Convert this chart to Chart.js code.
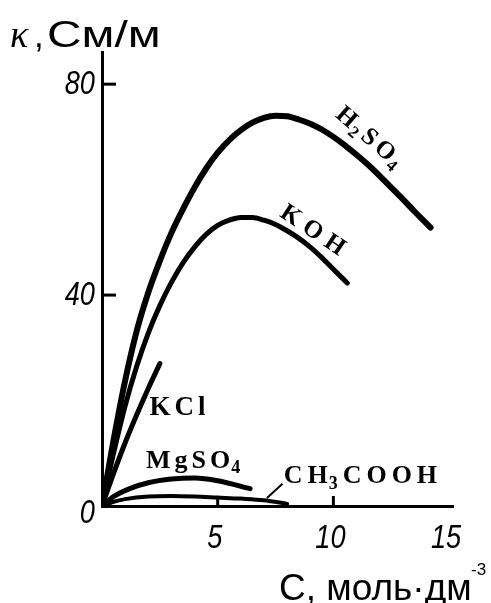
<!DOCTYPE html>
<html>
<head>
<meta charset="utf-8">
<script src="https://cdn.jsdelivr.net/npm/chart.js@4.4.1/dist/chart.umd.min.js"></script>
<style>
  html, body { margin: 0; padding: 0; background: #fff; }
  #wrap { width: 491px; height: 603px; position: relative; }
</style>
</head>
<body>
<div id="wrap"><canvas id="myChart"></canvas></div>
<script>
// concentration C (mol/dm3) and conductivity kappa (S/m)
const h2so4C = [0, 0.5, 1, 1.5, 2, 2.5, 3, 3.5, 4, 4.5, 5, 5.5, 6, 6.5, 7, 7.5, 8, 8.5, 9, 9.5, 10, 10.5, 11, 11.5, 12, 12.5, 13, 13.5, 14.2];
const h2so4K = [0, 12.5, 23.8, 33.2, 40.5, 46.5, 51.8, 56.3, 60.4, 64, 67, 69.4, 71.3, 72.7, 73.6, 74, 73.9, 73.3, 72.5, 71.4, 70, 68.4, 66.6, 64.7, 62.6, 60.4, 58.2, 55.9, 52.8];

const kohC = [0, 0.5, 1, 1.5, 2, 2.5, 3, 3.5, 4, 4.5, 5, 5.5, 6, 6.5, 7, 7.5, 8, 8.5, 9, 9.5, 10, 10.6];
const kohK = [0, 10, 19, 26.5, 32.8, 38, 42.4, 46.1, 49.1, 51.5, 53.2, 54.2, 54.7, 54.7, 54.2, 53.4, 52.2, 50.8, 49.1, 47.1, 44.9, 42.3];

const kclC = [0, 0.5, 1, 1.5, 2, 2.5];
const kclK = [0, 6.2, 12, 17.3, 22.3, 27];

const mgso4C = [0, 0.5, 1.2, 2, 3, 4, 5, 6.4];
const mgso4K = [0, 1.8, 3.3, 4.4, 5.1, 5.3, 4.8, 3.3];

const aceticC = [0, 0.5, 1, 2, 3, 4, 5, 6, 7, 8];
const aceticK = [0, 0.8, 1.3, 1.8, 1.9, 1.8, 1.6, 1.4, 1.1, 0.4];

const xTicks = [5, 10, 15];
const xTickMarks = [5, 10];
const yTicks = [0, 40, 80];
const yTickMarks = [40, 80];

function pts(cs, ks) {
  return cs.map((c, i) => ({ x: c, y: ks[i] }));
}

function series(cs, ks, w) {
  return {
    data: pts(cs, ks),
    borderColor: '#000',
    borderWidth: w,
    pointRadius: 0,
    fill: false,
    cubicInterpolationMode: 'monotone',
    borderCapStyle: 'round',
    borderJoinStyle: 'round'
  };
}

function setFont(ctx, p, size) {
  ctx.font = 'bold ' + (p[1] ? Math.round(size * 0.68) : size) + 'px "Liberation Serif", serif';
}
// pieces like ['H', false], ['2', true]: true means subscript
function gapAfter(pieces, i, spacing) {
  if (i >= pieces.length - 1) return 0;
  return pieces[i + 1][1] ? 1 : spacing;
}
function pieceWidth(ctx, pieces, size, spacing) {
  let w = 0;
  pieces.forEach((p, i) => {
    setFont(ctx, p, size);
    w += ctx.measureText(p[0]).width + gapAfter(pieces, i, spacing);
  });
  return w;
}
function drawPieces(ctx, pieces, x, y, size, spacing) {
  pieces.forEach((p, i) => {
    setFont(ctx, p, size);
    ctx.fillText(p[0], x, p[1] ? y + size * 0.2 : y);
    x += ctx.measureText(p[0]).width + gapAfter(pieces, i, spacing);
  });
}

const labels = [
  { pieces: [['H', false], ['2', true], ['S', false], ['O', false], ['4', true]], x: 11.6, y: 70.2, rot: 41, size: 25, sp: 4, center: true },
  { pieces: [['K', false], ['O', false], ['H', false]], x: 9.15, y: 52.6, rot: 34, size: 25, sp: 7, center: true },
  { pieces: [['K', false], ['C', false], ['l', false]], x: 2.05, y: 17.3, rot: 0, size: 27, sp: 4 },
  { pieces: [['M', false], ['g', false], ['S', false], ['O', false], ['4', true]], x: 1.9, y: 7.2, rot: 0, size: 26, sp: 4 },
  { pieces: [['C', false], ['H', false], ['3', true], ['C', false], ['O', false], ['O', false], ['H', false]], x: 7.85, y: 4.3, rot: 0, size: 26, sp: 5 }
];

const decor = {
  id: 'decor',
  afterDraw(chart) {
    const ctx = chart.ctx;
    const xs = chart.scales.x, ys = chart.scales.y;
    const x0 = xs.getPixelForValue(0), y0 = ys.getPixelForValue(0);
    ctx.save();
    ctx.strokeStyle = '#000';
    ctx.fillStyle = '#000';
    ctx.lineWidth = 3;
    ctx.lineCap = 'butt';
    // inward tick marks
    yTickMarks.forEach(v => {
      const py = ys.getPixelForValue(v);
      ctx.beginPath(); ctx.moveTo(x0, py); ctx.lineTo(x0 + 14, py); ctx.stroke();
    });
    xTickMarks.forEach(v => {
      const px = xs.getPixelForValue(v);
      ctx.beginPath(); ctx.moveTo(px, y0); ctx.lineTo(px, y0 - 10); ctx.stroke();
    });
    // tick labels, italic condensed
    ctx.font = 'italic 34px "Liberation Sans", sans-serif';
    ctx.textBaseline = 'middle';
    yTicks.forEach(v => {
      const py = ys.getPixelForValue(v) + (v === 0 ? 8 : 0);
      ctx.save();
      ctx.translate(x0 - 7, py);
      ctx.scale(0.8, 1);
      ctx.textAlign = 'right';
      ctx.fillText(String(v), 0, 0);
      ctx.restore();
    });
    xTicks.forEach(v => {
      const px = xs.getPixelForValue(v);
      ctx.save();
      ctx.translate(px - 3, y0 + 33);
      ctx.scale(0.8, 1);
      ctx.textAlign = 'center';
      ctx.fillText(String(v), 0, 0);
      ctx.restore();
    });
    // axis titles
    ctx.textBaseline = 'alphabetic';
    ctx.textAlign = 'left';
    ctx.font = 'italic 38px "Liberation Serif", serif';
    ctx.fillText('κ', 10, 47);
    ctx.font = '35px "Liberation Sans", sans-serif';
    ctx.fillText(',', 34, 47);
    ctx.save();
    ctx.translate(47, 47);
    ctx.scale(1.33, 1);
    ctx.font = '36px "Liberation Sans", sans-serif';
    ctx.fillText('См/м', 0, 0);
    ctx.restore();
    ctx.font = '37px "Liberation Sans", sans-serif';
    ctx.fillText('С, моль·дм', 279, 600);
    ctx.font = '17px "Liberation Sans", sans-serif';
    ctx.fillText('-3', 471, 575);
    // series labels
    labels.forEach(l => {
      const px = xs.getPixelForValue(l.x), py = ys.getPixelForValue(l.y);
      ctx.save();
      ctx.translate(px, py);
      ctx.rotate(l.rot * Math.PI / 180);
      const w = pieceWidth(ctx, l.pieces, l.size, l.sp);
      drawPieces(ctx, l.pieces, l.center ? -w / 2 : 0, l.center ? l.size * 0.35 : 0, l.size, l.sp);
      ctx.restore();
    });
    // leader from CH3COOH label to its curve
    ctx.lineWidth = 2;
    ctx.beginPath();
    ctx.moveTo(xs.getPixelForValue(7.13), ys.getPixelForValue(1.5));
    ctx.lineTo(xs.getPixelForValue(7.8), ys.getPixelForValue(4.2));
    ctx.stroke();
    ctx.restore();
  }
};

const ctx = document.getElementById('myChart').getContext('2d');
new Chart(ctx, {
  type: 'line',
  data: {
    datasets: [
      series(h2so4C, h2so4K, 6),
      series(kohC, kohK, 5),
      series(kclC, kclK, 5),
      series(mgso4C, mgso4K, 5),
      series(aceticC, aceticK, 4)
    ]
  },
  options: {
    responsive: true,
    maintainAspectRatio: false,
    devicePixelRatio: 1,
    animation: false,
    layout: { padding: { left: 102, right: 38, top: 52, bottom: 97 } },
    plugins: { legend: { display: false }, tooltip: { enabled: false } },
    scales: {
      x: {
        type: 'linear',
        min: 0,
        max: 15.17,
        grid: { display: false, drawTicks: false, tickLength: 0 },
        border: { display: true, color: '#000', width: 3 },
        ticks: { display: false }
      },
      y: {
        type: 'linear',
        min: 0,
        max: 86.1,
        grid: { display: false, drawTicks: false, tickLength: 0 },
        border: { display: true, color: '#000', width: 3 },
        ticks: { display: false }
      }
    }
  },
  plugins: [decor]
});
</script>
</body>
</html>
